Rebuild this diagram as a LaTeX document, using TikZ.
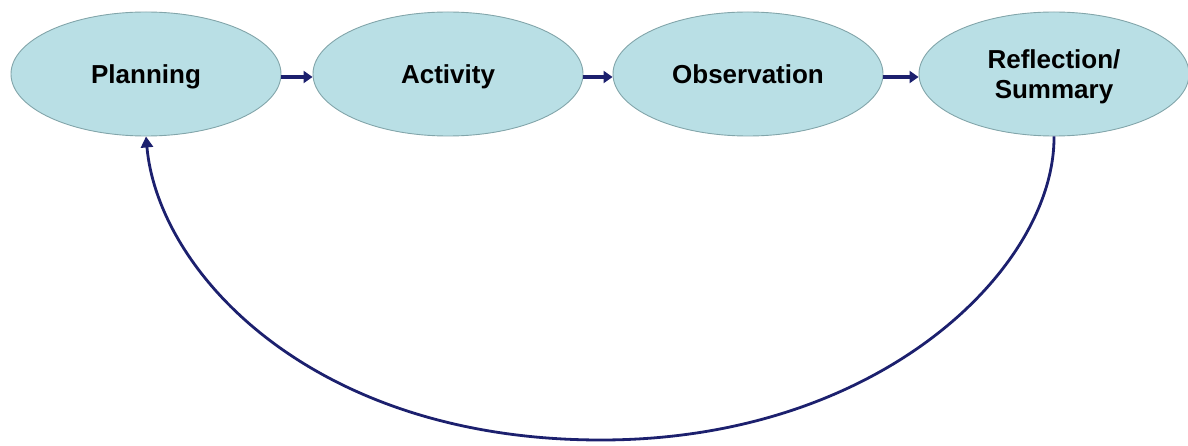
\documentclass[tikz,border=0pt]{standalone}
\usepackage{fontspec}
\setmainfont{Liberation Sans}
\usetikzlibrary{arrows.meta,shapes.geometric}
\definecolor{stagefill}{RGB}{185,223,229}
\definecolor{stageedge}{RGB}{130,165,170}
\definecolor{flowblue}{RGB}{28,32,110}
\tikzset{
  stage/.style={ellipse, draw=stageedge, line width=0.9pt, fill=stagefill,
    minimum width=270pt, minimum height=124pt, inner sep=0pt,
    text height=19pt, text depth=0pt,
    align=center, font=\fontsize{26}{30}\selectfont\bfseries},
  flow/.style={draw=flowblue, line width=3.5pt,
    -{Triangle[length=9pt,width=12pt]}},
  loopback/.style={draw=flowblue, line width=2.8pt,
    -{Triangle[length=11pt,width=12pt]}}
}
\begin{document}
\begin{tikzpicture}[x=1pt,y=-1pt]
  \useasboundingbox (0,0) rectangle (1188,446);
  \node[stage] (plan) at (146,74) {Planning};
  \node[stage] (act)  at (448,74) {Activity};
  \node[stage] (obs)  at (748,74) {Observation};
  \node[stage, text height=49pt] (refl) at (1054,74) {Reflection/\\Summary};
  \draw[flow] ([yshift=-3pt]plan.east) -- ([yshift=-3pt]act.west);
  \draw[flow] ([yshift=-3pt]act.east) -- ([yshift=-3pt]obs.west);
  \draw[flow] ([yshift=-3pt]obs.east) -- ([yshift=-3pt]refl.west);
  \coordinate (low) at (601,440);
  \draw[loopback] (refl.south) .. controls (1055,267) and (881,440) .. (low)
    .. controls (312,440) and (158,272) .. (plan.south);
\end{tikzpicture}
\end{document}
